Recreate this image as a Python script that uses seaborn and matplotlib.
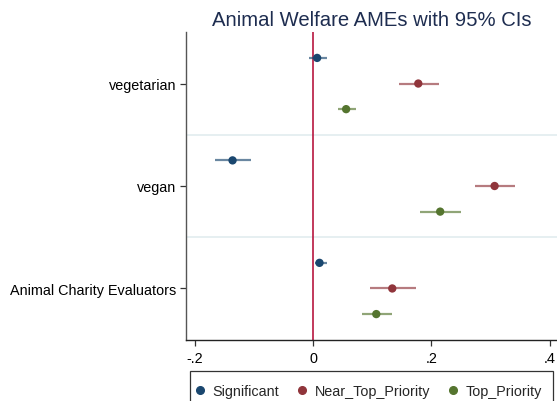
import matplotlib
matplotlib.use("Agg")
import matplotlib.pyplot as plt
from matplotlib.patches import Rectangle
from matplotlib.lines import Line2D
import seaborn as sns
import pandas as pd

categories = ["vegetarian", "vegan", "Animal Charity Evaluators"]
series = ["Significant", "Near_Top_Priority", "Top_Priority"]

est_sig = [0.007, -0.136, 0.011]
lo_sig = [-0.006, -0.165, 0.003]
hi_sig = [0.023, -0.104, 0.024]

est_near = [0.178, 0.307, 0.134]
lo_near = [0.145, 0.274, 0.096]
hi_near = [0.213, 0.342, 0.174]

est_top = [0.056, 0.215, 0.107]
lo_top = [0.043, 0.181, 0.082]
hi_top = [0.073, 0.251, 0.133]

xticks = [-0.2, 0, 0.2, 0.4]
xtick_labels = ["-.2", "0", ".2", ".4"]

colors = {"Significant": "#1a476f", "Near_Top_Priority": "#90353b", "Top_Priority": "#55752f"}

rows = []
for s_i, (s, e, l, h) in enumerate(zip(series,
                                       [est_sig, est_near, est_top],
                                       [lo_sig, lo_near, lo_top],
                                       [hi_sig, hi_near, hi_top])):
    for c_i, c in enumerate(categories):
        rows.append({"category": c, "series": s, "est": e[c_i], "lo": l[c_i], "hi": h[c_i],
                     "pos": 4 * c_i + s_i + 1})
df = pd.DataFrame(rows)

sns.set_style("white")
plt.rcParams["font.family"] = ["Liberation Sans", "DejaVu Sans"]

W, H = 557, 402
fig = plt.figure(figsize=(W / 100, H / 100), dpi=100)
left, right, top, bottom = 185.7, 557, 33.3, 340.7
ax = fig.add_axes([left / W, 1 - bottom / H, (right - left) / W, (bottom - top) / H])

# group dividers
for c_i in range(1, len(categories)):
    ax.axhline(4 * c_i, color="#e4eef0", lw=1.3, zorder=1)

ax.axvline(0, color="#b8163f", lw=1.2, zorder=2)

for s in series:
    d = df[df.series == s]
    ax.hlines(d.pos, d.lo, d.hi, colors=colors[s], lw=1.6, alpha=0.65, zorder=3)

sns.scatterplot(data=df, x="est", y="pos", hue="series", palette=colors, s=36,
                edgecolor="none", legend=False, ax=ax, zorder=4)

ax.set_xlim(-0.2152, 0.4125)
ax.set_ylim(12, 0)
ax.set_xticks(xticks)
ax.set_xticklabels(xtick_labels)
ax.set_yticks([4 * i + 2 for i in range(len(categories))])
ax.set_yticklabels(categories)
ax.set_xlabel("")
ax.set_ylabel("")
ax.tick_params(axis="both", which="both", direction="out", length=4.5, width=0.9,
               color="#333333", labelsize=10.4, labelcolor="black", pad=2.5,
               left=True, bottom=True)
ax.tick_params(axis="x", pad=3.5)
for sp in ["top", "right"]:
    ax.spines[sp].set_visible(False)
ax.spines["left"].set_color("#555555")
ax.spines["bottom"].set_color("#222222")
ax.spines["left"].set_linewidth(1.0)
ax.spines["bottom"].set_linewidth(1.0)

fig.text(372 / W, 1 - 26.5 / H, "Animal Welfare AMEs with 95% CIs", ha="center",
         va="baseline", fontsize=14.6, color="#1e2d50")

# legend frame
fig.patches.append(Rectangle((190 / W, 1 - 420 / H), (553 - 190) / W, (420 - 372.3) / H,
                             transform=fig.transFigure, facecolor="white",
                             edgecolor="#333333", lw=0.9, figure=fig))
handles = [Line2D([], [], marker="o", ls="none", color=colors[s], markersize=5.5) for s in series]
fig.legend(handles, series, loc="center left", bbox_to_anchor=(194 / W, 1 - 391.7 / H),
           ncol=3, frameon=False, fontsize=10.4, handlelength=0.8, handletextpad=0.5,
           columnspacing=1.15, borderpad=0, borderaxespad=0)

fig.savefig("out.png", dpi=100)
